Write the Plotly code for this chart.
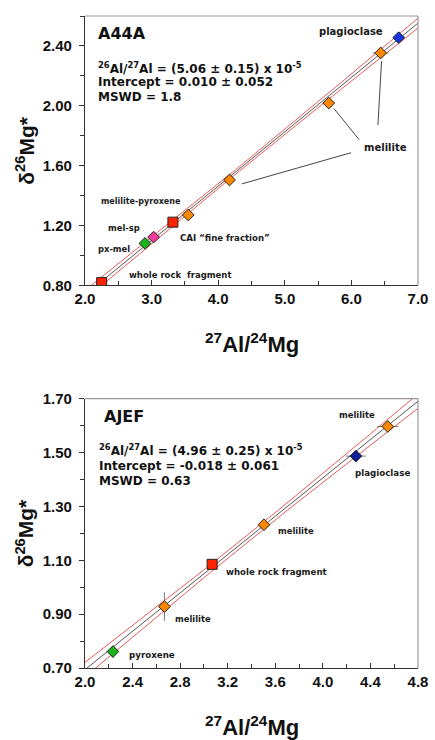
import numpy as np
import plotly.graph_objects as go

# ---------------- Panel A44A ----------------
a_x = [2.25, 2.90, 3.03, 3.32, 3.55, 4.17, 5.66, 6.44, 6.71]
a_y = [0.818, 1.080, 1.122, 1.222, 1.270, 1.504, 2.018, 2.353, 2.455]
a_xerr = [0.02, 0.02, 0.02, 0.03, 0.04, 0.06, 0.09, 0.12, 0.08]
a_yerr = [0.008, 0.008, 0.008, 0.008, 0.01, 0.01, 0.012, 0.012, 0.01]
a_symbol = ['square', 'diamond', 'diamond', 'square', 'diamond', 'diamond', 'diamond', 'diamond', 'diamond']
a_color = ['#ff2200', '#18b418', '#f03a9a', '#ff2200', '#ff8800', '#ff8800', '#ff8800', '#ff8800', '#1436e0']
a_fit = dict(slope=0.3632, intercept=0.010, hc=0.015, s=0.0108, xc=4.3)
a_labels = [
    ('plagioclase', 5.99, 2.499, 10),
    ('melilite', 6.51, 1.718, 10),
    ('melilite-pyroxene', 2.84, 1.362, 8),
    ('mel-sp', 2.59, 1.182, 8.4),
    ('px-mel', 2.44, 1.040, 8.4),
    ('CAI \u201cfine fraction\u201d', 4.10, 1.117, 8.6),
    ('whole rock  fragment', 3.43, 0.870, 8.5),
]
a_leaders = [  # x0, y0, x1, y1
    (5.738, 1.981, 6.117, 1.773),
    (6.453, 2.298, 6.398, 1.871),
    (5.994, 1.686, 4.357, 1.478),
]
a_text = ['<sup>26</sup>Al/<sup>27</sup>Al = (5.06 \u00b1 0.15) x 10<sup>-5</sup>',
          'Intercept = 0.010 \u00b1 0.052', 'MSWD = 1.8']
a_xticks = [2.0, 3.0, 4.0, 5.0, 6.0, 7.0]
a_yticks = [0.80, 1.20, 1.60, 2.00, 2.40]

# ---------------- Panel AJEF ----------------
b_x = [2.235, 2.668, 3.069, 3.505, 4.278, 4.546]
b_y = [0.761, 0.928, 1.085, 1.232, 1.487, 1.597]
b_xerr = [0.02, 0.03, 0.03, 0.04, 0.083, 0.09]
b_yerr = [0.022, 0.053, 0.01, 0.012, 0.012, 0.012]
b_symbol = ['diamond', 'diamond', 'square', 'diamond', 'diamond', 'diamond']
b_color = ['#18b418', '#ff8800', '#ff2200', '#ff8800', '#10209a', '#ff8800']
b_fit = dict(slope=0.356, intercept=-0.018, hc=0.013, s=0.0165, xc=3.4)
b_labels = [
    ('melilite', 4.287, 1.639, 8.4),
    ('plagioclase', 4.505, 1.425, 8.7),
    ('melilite', 3.773, 1.208, 8.4),
    ('whole rock fragment', 3.607, 1.056, 8.6),
    ('melilite', 2.906, 0.881, 8.4),
    ('pyroxene', 2.561, 0.747, 8.7),
]
b_text = ['<sup>26</sup>Al/<sup>27</sup>Al = (4.96 \u00b1 0.25) x 10<sup>-5</sup>',
          'Intercept = -0.018 \u00b1 0.061', 'MSWD = 0.63']
b_xticks = [2.0, 2.4, 2.8, 3.2, 3.6, 4.0, 4.4, 4.8]
b_yticks = [0.70, 0.90, 1.10, 1.30, 1.50, 1.70]

LABEL_FONT = 'DejaVu Sans'
TICK_FONT = 'Liberation Sans, Arial'

fig = go.Figure()


def add_panel(xa, ya, px, py, xerr, yerr, sym, col, fit, xr):
    xs = np.linspace(xr[0] - 0.2, xr[1] + 0.2, 80)
    ys = fit['intercept'] + fit['slope'] * xs
    h = np.sqrt(fit['hc'] ** 2 + (fit['s'] * (xs - fit['xc'])) ** 2)
    for sign in (1, -1):
        fig.add_trace(go.Scatter(x=xs, y=ys + sign * h, mode='lines', xaxis=xa, yaxis=ya,
                                 line=dict(color='#e85a5a', width=1), hoverinfo='skip'))
    fig.add_trace(go.Scatter(x=xs, y=ys, mode='lines', xaxis=xa, yaxis=ya,
                             line=dict(color='#555555', width=1), hoverinfo='skip'))
    fig.add_trace(go.Scatter(
        x=px, y=py, mode='markers', xaxis=xa, yaxis=ya,
        error_x=dict(type='data', array=xerr, color='#555555', thickness=0.8, width=0),
        error_y=dict(type='data', array=yerr, color='#555555', thickness=0.8, width=0),
        marker=dict(symbol=sym, color=col, opacity=1,
                    size=[10 if s == 'square' else 9 for s in sym],
                    line=dict(color='#222222', width=1))))


add_panel('x', 'y', a_x, a_y, a_xerr, a_yerr, a_symbol, a_color, a_fit, (2.0, 7.0))
add_panel('x2', 'y2', b_x, b_y, b_xerr, b_yerr, b_symbol, b_color, b_fit, (2.0, 4.8))

ann = []
shapes = []
for (t, x, y, s) in a_labels:
    ann.append(dict(text='<b>' + t + '</b>', x=x, y=y, xref='x', yref='y', showarrow=False,
                    font=dict(family=LABEL_FONT, size=s, color='#1a1a1a')))
for (t, x, y, s) in b_labels:
    ann.append(dict(text='<b>' + t + '</b>', x=x, y=y, xref='x2', yref='y2', showarrow=False,
                    font=dict(family=LABEL_FONT, size=s, color='#1a1a1a')))
for (x0, y0, x1, y1) in a_leaders:
    shapes.append(dict(type='line', x0=x0, y0=y0, x1=x1, y1=y1, xref='x', yref='y',
                       line=dict(color='#444444', width=1)))

# Panel titles and fit texts
ann.append(dict(text='<b>A44A</b>', x=0.0325, y=0.934, xref='x domain', yref='y domain', xanchor='left',
                yanchor='middle', showarrow=False,
                font=dict(family=LABEL_FONT, size=16, color='#111111')))
ann.append(dict(text='<b>AJEF</b>', x=0.050, y=0.935, xref='x2 domain', yref='y2 domain', xanchor='left',
                yanchor='middle', showarrow=False,
                font=dict(family=LABEL_FONT, size=16, color='#111111')))
for t, yy in zip(a_text, [0.806, 0.755, 0.700]):
    ann.append(dict(text='<b>' + t + '</b>', x=0.0325, y=yy, xref='x domain', yref='y domain',
                    xanchor='left', yanchor='middle', showarrow=False,
                    font=dict(family=LABEL_FONT, size=12, color='#111111')))
for t, yy in zip(b_text, [0.810, 0.752, 0.694]):
    ann.append(dict(text='<b>' + t + '</b>', x=0.0346, y=yy, xref='x2 domain', yref='y2 domain',
                    xanchor='left', yanchor='middle', showarrow=False,
                    font=dict(family=LABEL_FONT, size=12, color='#111111')))

# Axis titles
for xr_, yr_ in (('x', 'y'), ('x2', 'y2')):
    ann.append(dict(text='<b><sup>27</sup>Al/<sup>24</sup>Mg</b>', x=0.5, y=0, xref=xr_ + ' domain',
                    yref=yr_ + ' domain', yanchor='middle', yshift=-58, showarrow=False,
                    font=dict(family=TICK_FONT, size=22, color='#111111')))
    ann.append(dict(text='<b>\u03b4<sup>26</sup>Mg*</b>', x=0, y=0.5, xref=xr_ + ' domain',
                    yref=yr_ + ' domain', xanchor='center', xshift=-60, textangle=-90,
                    showarrow=False,
                    font=dict(family=TICK_FONT, size=21, color='#111111')))
    # top and right frame in grey
    shapes.append(dict(type='line', x0=0, x1=1, y0=1, y1=1, xref=xr_ + ' domain', yref=yr_ + ' domain',
                       line=dict(color='#999999', width=1.2)))
    shapes.append(dict(type='line', x0=1, x1=1, y0=0, y1=1, xref=xr_ + ' domain', yref=yr_ + ' domain',
                       line=dict(color='#999999', width=1.2)))

xcommon = dict(showgrid=False, zeroline=False, showline=True, linecolor='#333333', linewidth=1.3,
               ticks='inside', ticklen=5, tickcolor='#333333', tickwidth=1,
               tickfont=dict(family=TICK_FONT, size=15, color='#111111', weight='bold'),
               tickformat='.1f')
ycommon = dict(showgrid=False, zeroline=False, showline=True, linecolor='#333333', linewidth=1.3,
               ticks='outside', ticklen=5, tickcolor='#333333', tickwidth=1,
               tickfont=dict(family=TICK_FONT, size=15, color='#111111', weight='bold'),
               tickformat='.2f', ticklabelstandoff=4)

fig.update_layout(
    width=435, height=740, showlegend=False,
    margin=dict(l=85, r=12, t=7, b=72),
    paper_bgcolor='white', plot_bgcolor='white',
    xaxis=dict(xcommon, range=[2.0, 7.0], tickvals=a_xticks, anchor='y',
               minor=dict(dtick=0.5, ticks='inside', ticklen=4, tickcolor='#333333')),
    yaxis=dict(ycommon, range=[0.80, 2.60], tickvals=a_yticks, domain=[0.587, 1.0], anchor='x',
               minor=dict(dtick=0.2, ticks='outside', ticklen=4, tickcolor='#333333')),
    xaxis2=dict(xcommon, range=[2.0, 4.8], tickvals=b_xticks, anchor='y2',
                minor=dict(dtick=0.2, ticks='inside', ticklen=4, tickcolor='#333333')),
    yaxis2=dict(ycommon, range=[0.70, 1.70], tickvals=b_yticks, domain=[0.0, 0.413], anchor='x2',
                minor=dict(dtick=0.1, ticks='outside', ticklen=4, tickcolor='#333333')),
    annotations=ann, shapes=shapes,
)

fig.write_html('out.html')
